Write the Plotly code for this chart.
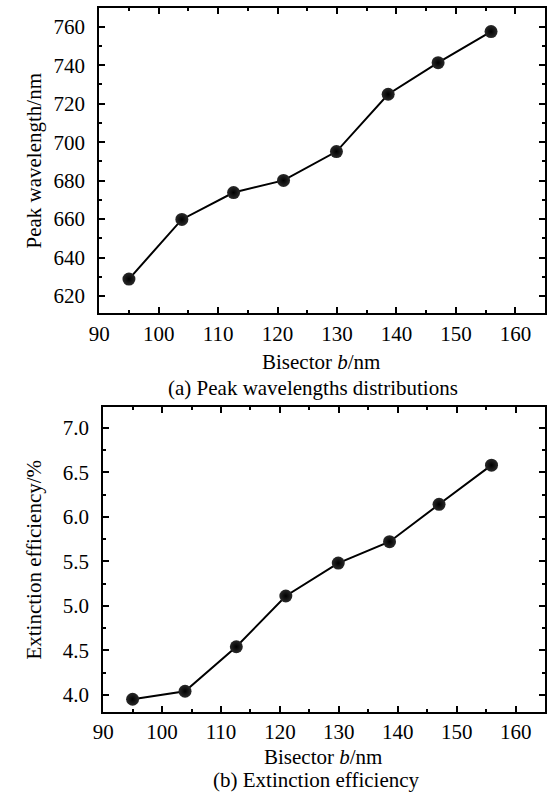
import plotly.graph_objects as go

# Data
bisector = [95.0, 103.9, 112.6, 121.0, 129.9, 138.6, 147.0, 155.9]
peak_wavelength = [628.8, 659.8, 673.8, 680.1, 695.1, 724.9, 741.3, 757.5]
extinction_eff = [3.95, 4.04, 4.54, 5.11, 5.48, 5.72, 6.14, 6.58]

x_ticks = [90, 100, 110, 120, 130, 140, 150, 160]
y1_ticks = [620, 640, 660, 680, 700, 720, 740, 760]
y2_ticks = [4.0, 4.5, 5.0, 5.5, 6.0, 6.5, 7.0]
y2_ticklabels = ["4.0", "4.5", "5.0", "5.5", "6.0", "6.5", "7.0"]

W, H = 552, 792
FONT = "Liberation Serif"

marker = dict(size=13, color="#2a2a2a", line=dict(width=0),
              gradient=dict(type="radial", color="black"))
line = dict(color="black", width=2)

fig = go.Figure()
fig.add_trace(go.Scatter(x=bisector, y=peak_wavelength, mode="lines+markers",
                         marker=marker, line=line, xaxis="x", yaxis="y",
                         showlegend=False))
fig.add_trace(go.Scatter(x=bisector, y=extinction_eff, mode="lines+markers",
                         marker=marker, line=line, xaxis="x2", yaxis="y2",
                         showlegend=False))

def ax(**kw):
    base = dict(showline=True, linecolor="black", linewidth=2, mirror="allticks",
                ticks="inside", ticklen=6, tickwidth=1.5, tickcolor="black",
                showgrid=False, zeroline=False,
                tickfont=dict(family=FONT, size=21, color="black"))
    base.update(kw)
    return base

fig.update_layout(
    width=W, height=H,
    margin=dict(l=0, r=0, t=0, b=0),
    paper_bgcolor="white", plot_bgcolor="white",
    font=dict(family=FONT),
    xaxis=ax(domain=[90/W, 545/W], range=[90, 165], tickvals=x_ticks,
             minor=dict(ticks="inside", ticklen=3, dtick=5, tickwidth=1.5, tickcolor="black"),
             anchor="y", ticklabelstandoff=0),
    yaxis=ax(domain=[1-313.3/H, 1-8.3/H], range=[611, 769.6], tickvals=y1_ticks,
             minor=dict(ticks="inside", ticklen=3, dtick=10, tickwidth=1.5, tickcolor="black"),
             anchor="x", ticklabelstandoff=8),
    xaxis2=ax(domain=[94/W, 545/W], range=[90, 165], tickvals=x_ticks,
              minor=dict(ticks="inside", ticklen=3, dtick=5, tickwidth=1.5, tickcolor="black"),
              anchor="y2", ticklabelstandoff=0),
    yaxis2=ax(domain=[1-711.7/H, 1-407.3/H], range=[3.81, 7.23], tickvals=y2_ticks,
              ticktext=y2_ticklabels,
              minor=dict(ticks="inside", ticklen=3, dtick=0.25, tickwidth=1.5, tickcolor="black"),
              anchor="x2", ticklabelstandoff=8),
)

def label(text, x, y, angle=0):
    fig.add_annotation(text=text, x=x/W, y=1-y/H, xref="paper", yref="paper",
                       showarrow=False, textangle=angle, xanchor="center", yanchor="middle",
                       font=dict(family=FONT, size=21, color="black"))

label("Bisector <i>b</i>/nm", 316, 362)
label("(a) Peak wavelengths distributions", 308, 388)
label("Peak wavelength/nm", 23, 161, -90)
label("Bisector <i>b</i>/nm", 318, 757)
label("(b) Extinction efficiency", 312, 780)
label("Extinction efficiency/%", 23, 560, -90)

fig.write_html("out.html")
